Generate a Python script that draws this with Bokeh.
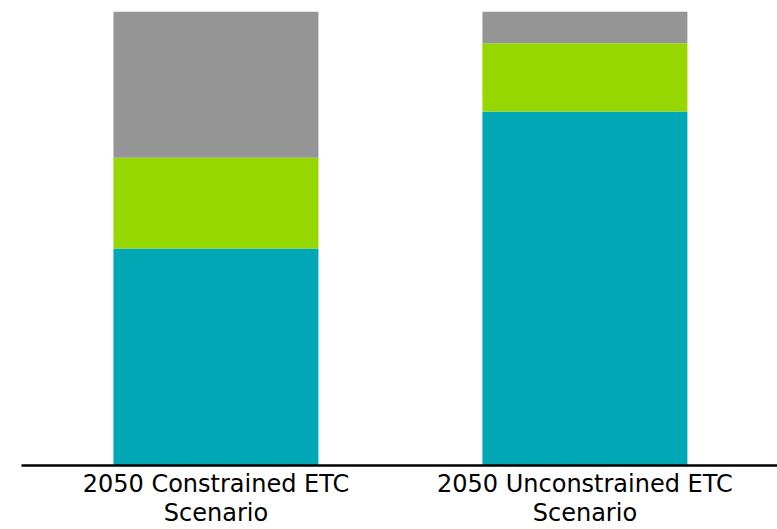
from bokeh.plotting import figure
from bokeh.models import ColumnDataSource, Range1d, FixedTicker
from bokeh.embed import file_html
from bokeh.resources import INLINE

categories = ["2050 Constrained ETC\nScenario", "2050 Unconstrained ETC\nScenario"]
series_names = ["teal", "green", "grey"]
teal_vals = [47.8, 78.0]
green_vals = [20.0, 15.0]
grey_vals = [32.2, 7.0]
colors = ["#00A8B5", "#96D700", "#959595"]

xpos = list(range(len(categories)))
source = ColumnDataSource(data=dict(x=xpos, teal=teal_vals, green=green_vals, grey=grey_vals))

p = figure(width=777, height=529, output_backend="svg", toolbar_location=None,
           x_range=Range1d(-0.527, 1.522), y_range=Range1d(0, 100),
           min_border_left=21, min_border_right=0, min_border_top=11, min_border_bottom=64)

p.vbar_stack(series_names, x="x", width=0.5556, color=colors, line_color=None, source=source)

p.yaxis.visible = False
p.grid.visible = False
p.outline_line_color = None
p.background_fill_color = "white"
p.border_fill_color = "white"

xa = p.xaxis[0]
xa.ticker = FixedTicker(ticks=xpos)
xa.major_label_overrides = {i: c for i, c in zip(xpos, categories)}
xa.major_tick_line_color = None
xa.minor_tick_line_color = None
xa.major_tick_out = 0
xa.axis_line_color = "black"
xa.axis_line_width = 2.5
xa.major_label_text_font = "DejaVu Sans"
xa.major_label_text_font_size = "24px"
xa.major_label_text_line_height = 1.05
xa.major_label_text_color = "black"
xa.major_label_standoff = 4

open("out.html", "w").write(file_html(p, INLINE))
